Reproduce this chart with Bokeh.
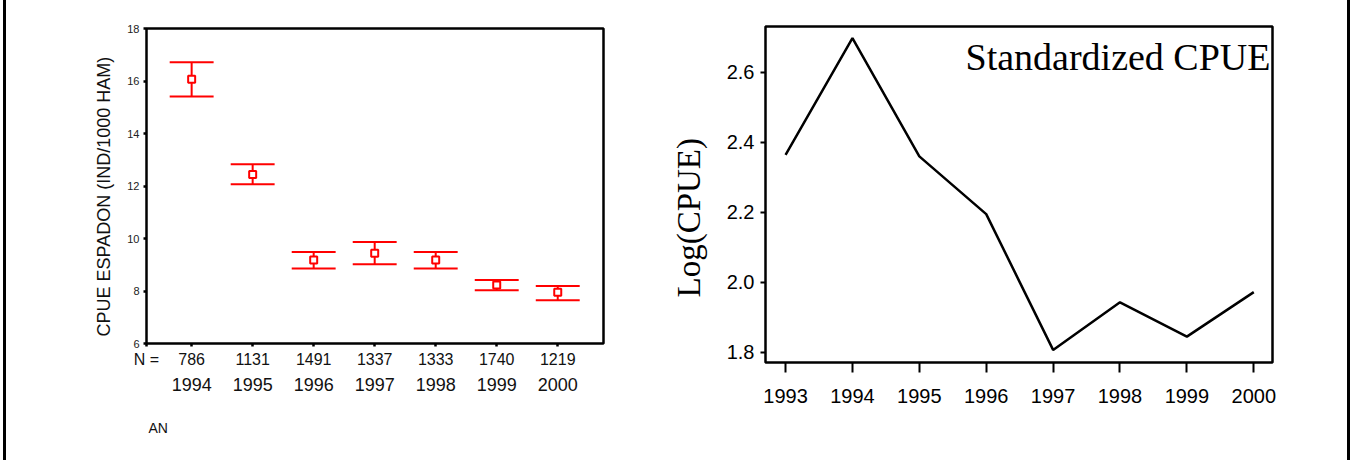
from bokeh.plotting import figure
from bokeh.models import Range1d, LinearAxis, FixedTicker, Title, Label
from bokeh.embed import file_html
from bokeh.resources import INLINE

# ---------------- data: left panel (mean +/- error by year) ----------------
years_left = [1994, 1995, 1996, 1997, 1998, 1999, 2000]
n_labels = ["786", "1131", "1491", "1337", "1333", "1740", "1219"]
cpue_mean = [16.07, 12.44, 9.18, 9.44, 9.18, 8.23, 7.95]
cpue_upper = [16.71, 12.83, 9.49, 9.87, 9.49, 8.42, 8.19]
cpue_lower = [15.41, 12.07, 8.86, 9.02, 8.86, 8.03, 7.65]
left_y_ticks = [6, 8, 10, 12, 14, 16, 18]
left_y_label = "CPUE   ESPADON (IND/1000 HAM)"
left_x_label = "AN"
n_prefix = "N ="

# ---------------- data: right panel (standardized CPUE) ----------------
years_right = [1993, 1994, 1995, 1996, 1997, 1998, 1999, 2000]
log_cpue = [2.364, 2.698, 2.360, 2.195, 1.807, 1.943, 1.845, 1.972]
right_y_ticks = [1.8, 2.0, 2.2, 2.4, 2.6]
right_y_label = "Log(CPUE)"
right_title = "Standardized CPUE"

SANS = "Liberation Sans"
SERIF = "Liberation Serif"
RED = "#FF0000"

# ---------------- left figure ----------------
lx0, lx1 = 1993.26, 2000.75
p1 = figure(width=645, height=460, x_range=Range1d(lx0, lx1), y_range=Range1d(6, 18),
            output_backend="svg", toolbar_location=None, tools="",
            x_axis_location=None, y_axis_location="left",
            min_border_left=140, min_border_right=48, min_border_top=28, min_border_bottom=116,
            styles={"position": "absolute", "left": "3px", "top": "0px",
                    "border-left": "3px solid black"})
p1.grid.visible = False
p1.outline_line_color = "black"
p1.outline_line_width = 2.5
p1.background_fill_color = "white"
p1.border_fill_color = "white"

ya = p1.yaxis[0]
ya.ticker = FixedTicker(ticks=left_y_ticks)
ya.major_label_overrides = {t: str(t) for t in left_y_ticks}
ya.axis_line_color = None
ya.major_tick_out = 3
ya.major_tick_in = 0
ya.major_tick_line_width = 2.5
ya.minor_tick_line_color = None
ya.major_label_text_font = SANS
ya.major_label_text_font_size = "11px"
ya.major_label_text_color = "#222222"
ya.major_label_standoff = 4

p1.add_layout(Title(text=left_y_label, align="left", offset=7, standoff=21,
                    text_font=SANS, text_font_size="18px", text_font_style="normal",
                    text_color="#111111"), "left")

cap_half = 0.36
p1.segment(x0=years_left, y0=cpue_lower, x1=years_left, y1=cpue_upper,
           line_color=RED, line_width=2)
p1.segment(x0=[y - cap_half for y in years_left], y0=cpue_upper,
           x1=[y + cap_half for y in years_left], y1=cpue_upper,
           line_color=RED, line_width=2)
p1.segment(x0=[y - cap_half for y in years_left], y0=cpue_lower,
           x1=[y + cap_half for y in years_left], y1=cpue_lower,
           line_color=RED, line_width=2)
p1.scatter(x=years_left, y=cpue_mean, marker="square", size=7,
           fill_color="white", line_color=RED, line_width=2)

n_over = {lx0: n_prefix}
n_over.update({y: n for y, n in zip(years_left, n_labels)})
ax_n = LinearAxis(ticker=FixedTicker(ticks=[lx0] + years_left),
                  major_label_overrides=n_over,
                  axis_line_color=None, minor_tick_line_color=None,
                  major_tick_out=3, major_tick_in=0, major_tick_line_width=2.5,
                  major_label_text_font=SANS, major_label_text_font_size="16px",
                  major_label_text_color="#111111", major_label_standoff=4)
p1.add_layout(ax_n, "below")

ax_y = LinearAxis(ticker=FixedTicker(ticks=years_left),
                  major_label_overrides={y: str(y) for y in years_left},
                  axis_line_color=None, minor_tick_line_color=None,
                  major_tick_line_color=None, major_tick_out=0, major_tick_in=0,
                  major_label_text_font=SANS, major_label_text_font_size="18px",
                  major_label_text_color="#111111", major_label_standoff=7)
p1.add_layout(ax_y, "below")

p1.add_layout(Title(text=left_x_label, align="left", offset=2, standoff=49,
                    text_font=SANS, text_font_size="14px", text_font_style="normal",
                    text_color="#111111"), "below")

# ---------------- right figure ----------------
p2 = figure(width=699, height=460, x_range=Range1d(1992.70, 2000.28),
            y_range=Range1d(1.771, 2.731),
            output_backend="svg", toolbar_location=None, tools="",
            min_border_left=112, min_border_right=78, min_border_top=26, min_border_bottom=98,
            styles={"position": "absolute", "left": "651px", "top": "0px",
                    "border-right": "3px solid black"})
p2.grid.visible = False
p2.outline_line_color = "black"
p2.outline_line_width = 2.5
p2.background_fill_color = "white"
p2.border_fill_color = "white"

xa = p2.xaxis[0]
xa.ticker = FixedTicker(ticks=years_right)
xa.major_label_overrides = {y: str(y) for y in years_right}
xa.axis_line_color = None
xa.minor_tick_line_color = None
xa.major_tick_out = 10
xa.major_tick_in = 0
xa.major_tick_line_width = 2
xa.major_label_text_font = SANS
xa.major_label_text_font_size = "20px"
xa.major_label_text_color = "black"
xa.major_label_standoff = 16

ya2 = p2.yaxis[0]
ya2.ticker = FixedTicker(ticks=right_y_ticks)
ya2.major_label_overrides = {t: f"{t:.1f}" for t in right_y_ticks}
ya2.axis_line_color = None
ya2.minor_tick_line_color = None
ya2.major_tick_out = 5
ya2.major_tick_in = 0
ya2.major_tick_line_width = 2
ya2.major_label_text_font = SANS
ya2.major_label_text_font_size = "20px"
ya2.major_label_text_color = "black"
ya2.major_label_standoff = 6

p2.add_layout(Title(text=right_y_label, align="left", offset=65, standoff=34,
                    text_font=SERIF, text_font_size="33px", text_font_style="normal",
                    text_color="black"), "left")

p2.line(x=years_right, y=log_cpue, line_color="black", line_width=2.5)

p2.add_layout(Label(x=505, y=327, x_units="screen", y_units="screen", text=right_title,
                    text_align="right", text_baseline="top",
                    text_font=SERIF, text_font_size="38px", text_color="black"))

open("out.html", "w").write(file_html([p1, p2], INLINE))
